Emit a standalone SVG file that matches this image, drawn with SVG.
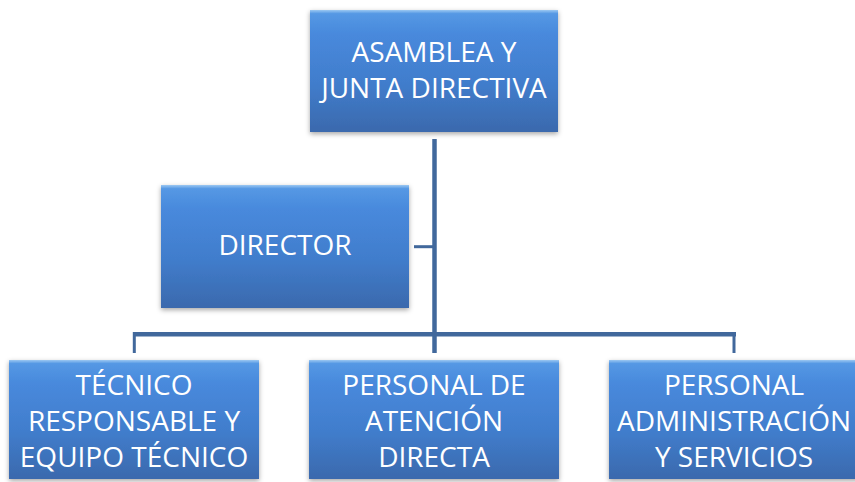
<svg xmlns="http://www.w3.org/2000/svg" width="855" height="482" viewBox="0 0 855 482">
<defs>
<linearGradient id="g" x1="0" y1="0" x2="0" y2="1">
<stop offset="0" stop-color="#9cc8f2"/>
<stop offset="0.03" stop-color="#5598e4"/>
<stop offset="0.2" stop-color="#4889dc"/>
<stop offset="0.6" stop-color="#417dcc"/>
<stop offset="1" stop-color="#3a69ad"/>
</linearGradient>
<filter id="sh" x="-10%" y="-10%" width="120%" height="130%">
<feDropShadow dx="0" dy="2" stdDeviation="2.5" flood-color="#000" flood-opacity="0.35"/>
</filter>
</defs>
<style>
.box{fill:url(#g);filter:url(#sh);}
.t{font-family:"Open Sans","Liberation Sans",sans-serif;font-size:28px;fill:#fff;text-anchor:middle;}
.c{stroke:#41689c;fill:none;}
</style>
<rect width="855" height="482" fill="#fff"/>
<g id="connectors">
<line class="c" x1="434.5" y1="139" x2="434.5" y2="353" stroke-width="4.5"/>
<line class="c" x1="134" y1="334.3" x2="736" y2="334.3" stroke-width="4.5"/>
<line class="c" x1="134.3" y1="332" x2="134.3" y2="353" stroke-width="3"/>
<line class="c" x1="734" y1="332" x2="734" y2="353" stroke-width="3"/>
<line class="c" x1="414" y1="246.7" x2="434" y2="246.7" stroke-width="3"/>
</g>
<g id="asamblea">
<rect class="box" x="310" y="10" width="248" height="122"/>
<text class="t" x="434" y="62">ASAMBLEA Y</text>
<text class="t" x="434" y="98">JUNTA DIRECTIVA</text>
</g>
<g id="director">
<rect class="box" x="161" y="185" width="248" height="123"/>
<text class="t" x="285" y="255">DIRECTOR</text>
</g>
<g id="tecnico">
<rect class="box" x="9" y="360" width="250" height="119"/>
<text class="t" x="134" y="395">TÉCNICO</text>
<text class="t" x="134" y="431">RESPONSABLE Y</text>
<text class="t" x="134" y="467">EQUIPO TÉCNICO</text>
</g>
<g id="atencion">
<rect class="box" x="309" y="360" width="250" height="119"/>
<text class="t" x="434" y="395">PERSONAL DE</text>
<text class="t" x="434" y="431">ATENCIÓN</text>
<text class="t" x="434" y="467">DIRECTA</text>
</g>
<g id="administracion">
<rect class="box" x="609" y="360" width="250" height="119"/>
<text class="t" x="734" y="395">PERSONAL</text>
<text class="t" x="734" y="431">ADMINISTRACIÓN</text>
<text class="t" x="734" y="467">Y SERVICIOS</text>
</g>
</svg>
